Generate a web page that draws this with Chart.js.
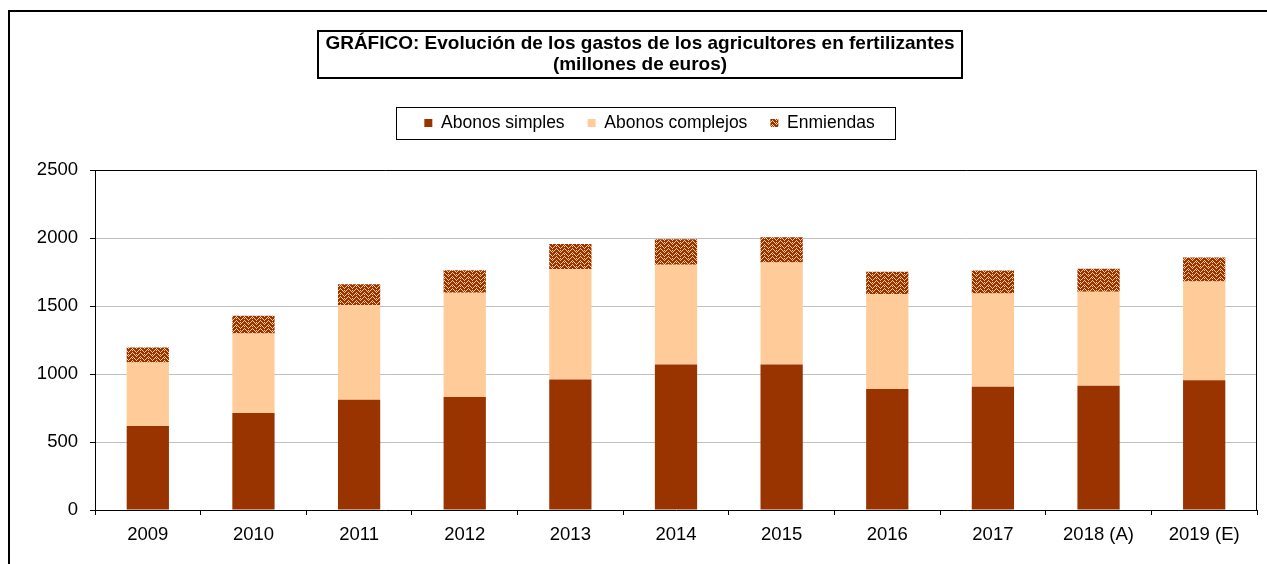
<!DOCTYPE html>
<html>
<head>
<meta charset="utf-8">
<script src="https://cdn.jsdelivr.net/npm/chart.js@4.4.1/dist/chart.umd.min.js"></script>
<style>html,body{margin:0;padding:0;background:#fff}canvas{display:block}</style>
</head>
<body>
<canvas id="c" width="1267" height="564"></canvas>
<script>
const categories = ['2009','2010','2011','2012','2013','2014','2015','2016','2017','2018 (A)','2019 (E)'];
const abonosSimples   = [617, 713, 810, 830, 960, 1070, 1070, 890, 907, 914, 954];
const abonosComplejos = [467, 584, 695, 767, 810, 733, 750, 697, 685, 690, 726];
const enmiendas       = [110, 131, 155, 165, 185, 187, 185, 164, 169, 169, 177];
const titleLines = ['GRÁFICO: Evolución de los gastos de los agricultores en fertilizantes', '(millones de euros)'];
const seriesNames = ['Abonos simples', 'Abonos complejos', 'Enmiendas'];

const canvas = document.getElementById('c');
const ctx = canvas.getContext('2d');

function makePattern() {
  const c = document.createElement('canvas');
  c.width = 8; c.height = 8;
  const g = c.getContext('2d');
  g.fillStyle = '#993300'; g.fillRect(0, 0, 8, 8);
  g.fillStyle = '#FFCC99';
  for (let x = 0; x < 8; x++) {
    const d = Math.abs(x - 4);
    for (let y = 0; y < 8; y++) {
      if ((((y - d) % 4) + 4) % 4 === 0) g.fillRect(x, y, 1, 1);
    }
  }
  g.fillRect(0, 2, 1, 1); g.fillRect(4, 6, 1, 1);
  return ctx.createPattern(c, 'repeat');
}
const pattern = makePattern();

const FONT = '"Liberation Sans", Arial, sans-serif';
Chart.defaults.font.family = FONT;
Chart.defaults.color = '#000';

const TITLE_SIZE = 19;
const decor = {
  id: 'decor',
  beforeUpdate(chart) {
    const lg = chart.legend;
    if (lg && !lg._patched) {
      const f = lg.fit.bind(lg);
      lg.fit = function () { f(); this.height += 28.25; };
      lg._patched = true;
    }
  },
  afterLayout(chart) {
    const tb = chart.titleBlock;
    if (tb) { tb.left += 11.5; tb.right += 11.5; }
    const lg = chart.legend;
    if (lg) { lg.left += 21; lg.right += 21; }
  },
  beforeDraw(chart) {
    const c = chart.ctx;
    c.save();
    c.fillStyle = '#fff';
    c.fillRect(0, 0, chart.width, chart.height);
    c.strokeStyle = '#000';
    c.lineWidth = 2;
    c.beginPath();
    c.moveTo(9, chart.height + 5);
    c.lineTo(9, 11);
    c.lineTo(chart.width + 5, 11);
    c.stroke();
    c.restore();
  },
  afterDraw(chart) {
    const c = chart.ctx;
    const a = chart.chartArea;
    c.save();
    c.strokeStyle = '#000';
    c.lineWidth = 1;
    c.beginPath();
    c.moveTo(Math.round(a.left) + 0.5, Math.round(a.top) + 0.5);
    c.lineTo(Math.round(a.right) - 0.5, Math.round(a.top) + 0.5);
    c.lineTo(Math.round(a.right) - 0.5, Math.round(a.bottom) + 0.5);
    c.stroke();
    // title box
    c.font = 'bold ' + TITLE_SIZE + 'px ' + FONT;
    const w = c.measureText(titleLines[0]).width;
    const tb = chart.titleBlock;
    const cx = (tb.left + tb.right) / 2;
    const x1 = Math.round(cx - w / 2 - 7);
    const x2 = Math.round(cx + w / 2 + 7);
    c.lineWidth = 2;
    c.strokeRect(x1, 31, x2 - x1, 47);
    // legend box
    c.lineWidth = 1;
    const hb = chart.legend.legendHitBoxes;
    if (hb && hb.length) {
      const l = Math.round(hb[0].left - 28) + 0.5;
      const last = hb[hb.length - 1];
      const r = Math.round(last.left + last.width + 20) + 0.5;
      c.strokeRect(l, 107.5, r - l, 32);
    }
    c.restore();
  }
};

new Chart(ctx, {
  type: 'bar',
  data: {
    labels: categories,
    datasets: [
      { label: seriesNames[0], data: abonosSimples, backgroundColor: '#993300' },
      { label: seriesNames[1], data: abonosComplejos, backgroundColor: '#FFCC99' },
      { label: seriesNames[2], data: enmiendas, backgroundColor: pattern }
    ]
  },
  options: {
    responsive: false,
    animation: false,
    devicePixelRatio: 1,
    layout: { padding: { left: 0, right: 10, top: 0, bottom: 0 } },
    datasets: { bar: { categoryPercentage: 1, barPercentage: 0.4, borderWidth: 0 } },
    plugins: {
      tooltip: { enabled: false },
      title: {
        display: true,
        text: titleLines,
        font: { size: TITLE_SIZE, weight: 'bold', lineHeight: 21 / TITLE_SIZE },
        color: '#000',
        padding: { top: 33.5, bottom: 15.75 }
      },
      legend: {
        display: true,
        position: 'top',
        labels: {
          boxWidth: 8,
          boxHeight: 8,
          padding: 23,
          font: { size: 17.5 },
          color: '#000'
        }
      }
    },
    scales: {
      x: {
        stacked: true,
        grid: { display: true, drawOnChartArea: false, offset: true, tickLength: 5, color: '#000' },
        border: { color: '#000' },
        ticks: { font: { size: 18.5 }, color: '#000', padding: 8.5, maxRotation: 0, autoSkip: false },
        afterFit(s) { s.height = 54; }
      },
      y: {
        stacked: true,
        min: 0,
        max: 2500,
        ticks: { stepSize: 500, font: { size: 18.5 }, color: '#000', padding: 12, callback: (v) => String(v) },
        grid: { color: '#c0c0c0', tickColor: '#000', tickLength: 5 },
        border: { color: '#000' },
        afterFit(s) { s.width = 95; }
      }
    }
  },
  plugins: [decor]
});
</script>
</body>
</html>
